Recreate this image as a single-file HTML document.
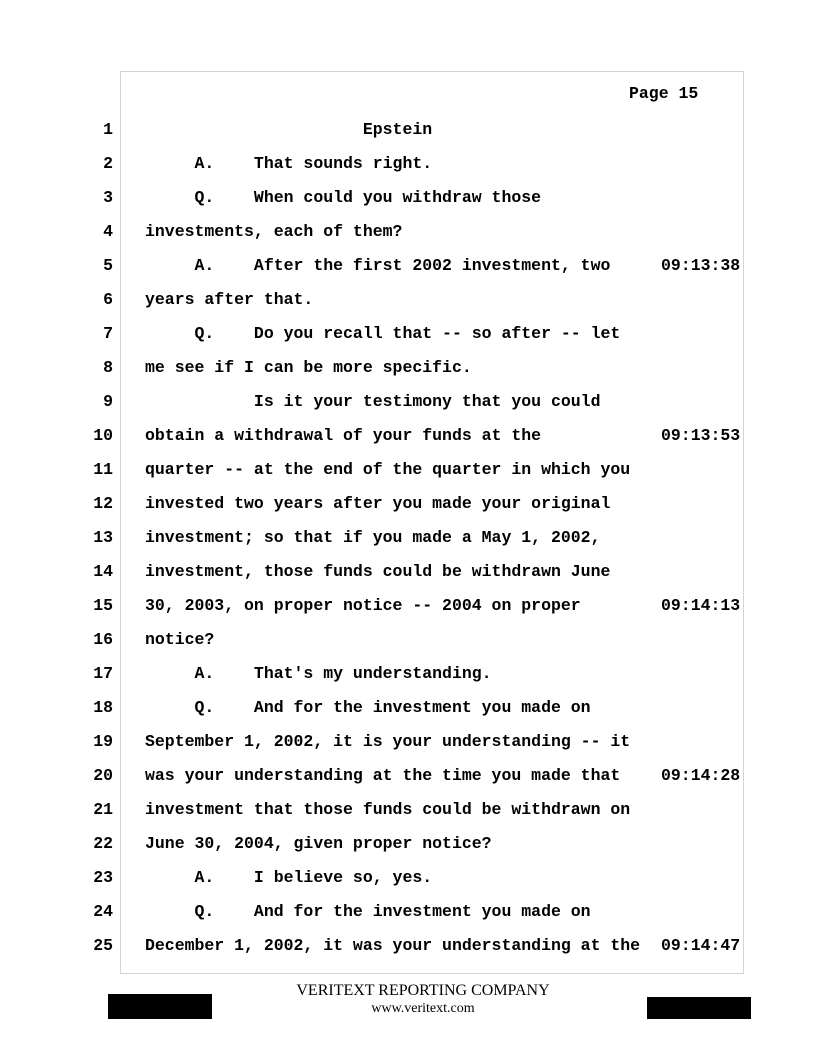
<!DOCTYPE html>
<html><head><meta charset="utf-8"><style>
body{margin:0;width:816px;height:1056px;background:#fff;position:relative;overflow:hidden}
.box{position:absolute;left:120px;top:71px;width:624px;height:903px;border:1px solid #d4d4d4;box-sizing:border-box}
.l{position:absolute;font-family:"Liberation Mono",monospace;font-weight:bold;font-size:16.5px;line-height:20px;white-space:pre;color:#000}
.n{position:absolute;left:80px;width:33px;text-align:right;font-family:"Liberation Mono",monospace;font-weight:bold;font-size:16.5px;line-height:20px}
.t{left:661px}
.f{position:absolute;width:816px;left:15px;text-align:center;font-family:"Liberation Serif",serif;color:#000}
.k{position:absolute;background:#000}
</style></head><body>
<div class="box"></div>
<div class="l" style="left:629px;top:84px">Page 15</div>
<div id="c"></div>
<div class="f" style="top:982px;font-size:16px">VERITEXT REPORTING COMPANY</div>
<div class="f" style="top:1001px;font-size:14px">www.veritext.com</div>
<div class="k" style="left:108px;top:994px;width:104px;height:25px"></div>
<div class="k" style="left:647px;top:997px;width:104px;height:22px"></div>
<script>
var L=["                      Epstein",
"     A.    That sounds right.",
"     Q.    When could you withdraw those",
"investments, each of them?",
"     A.    After the first 2002 investment, two",
"years after that.",
"     Q.    Do you recall that -- so after -- let",
"me see if I can be more specific.",
"           Is it your testimony that you could",
"obtain a withdrawal of your funds at the",
"quarter -- at the end of the quarter in which you",
"invested two years after you made your original",
"investment; so that if you made a May 1, 2002,",
"investment, those funds could be withdrawn June",
"30, 2003, on proper notice -- 2004 on proper",
"notice?",
"     A.    That's my understanding.",
"     Q.    And for the investment you made on",
"September 1, 2002, it is your understanding -- it",
"was your understanding at the time you made that",
"investment that those funds could be withdrawn on",
"June 30, 2004, given proper notice?",
"     A.    I believe so, yes.",
"     Q.    And for the investment you made on",
"December 1, 2002, it was your understanding at the"];
var T={5:"09:13:38",10:"09:13:53",15:"09:14:13",20:"09:14:28",25:"09:14:47"};
var h="";
for(var i=0;i<25;i++){var y=120+i*34;
h+='<div class="n" style="top:'+y+'px">'+(i+1)+'</div><div class="l" style="left:145px;top:'+y+'px">'+L[i]+'</div>';
if(T[i+1])h+='<div class="l t" style="top:'+y+'px">'+T[i+1]+'</div>';}
document.getElementById("c").innerHTML=h;
</script>
</body></html>
